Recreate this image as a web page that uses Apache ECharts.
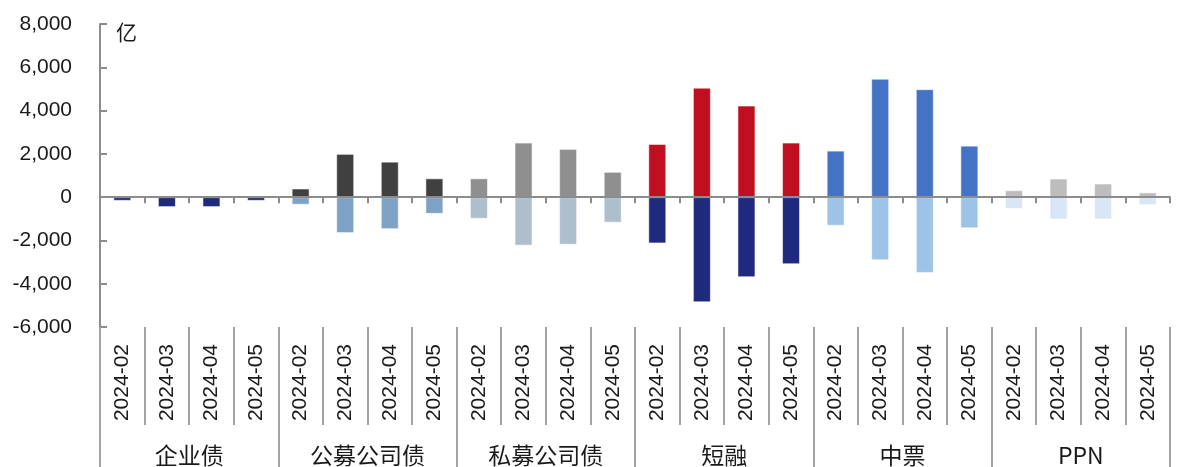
<!DOCTYPE html>
<html>
<head>
<meta charset="utf-8">
<script src="https://cdn.jsdelivr.net/npm/echarts@6/dist/echarts.min.js"></script>
<style>
html,body{margin:0;padding:0;background:#fff;}
#c{width:1181px;height:467px;}
</style>
</head>
<body>
<div id="c"></div>
<script>
// ---- data ----
var groups = ['企业债', '公募公司债', '私募公司债', '短融', '中票', 'PPN'];
var months = ['2024-02', '2024-03', '2024-04', '2024-05'];
var yTicks = [-6000, -4000, -2000, 0, 2000, 4000, 6000, 8000];
var unitLabel = '亿';

// issuance (positive) per group, by month
var issueQY = [0, 0, 0, 0];
var issueGM = [400, 2000, 1640, 870];
var issueSM = [870, 2520, 2230, 1170];
var issueDR = [2460, 5060, 4230, 2520];
var issueZP = [2150, 5470, 4990, 2380];
var issuePPN = [320, 860, 630, 220];

// repayment (negative) per group, by month
var repayQY = [-170, -460, -460, -170];
var repayGM = [-350, -1660, -1480, -770];
var repaySM = [-1000, -2240, -2200, -1180];
var repayDR = [-2140, -4860, -3700, -3100];
var repayZP = [-1320, -2920, -3500, -1440];
var repayPPN = [-540, -1030, -1030, -370];

// ---- styles ----
var posColors = ['#1f2a7a', '#404040', '#8f8f8f', '#c00f20', '#4472c4', '#bdbdbd'];
var negColors = ['#1f2a7a', '#7ea2c6', '#adbecd', '#1f2a7e', '#9dc3e6', '#d8e6f5'];

var issueAll = [issueQY, issueGM, issueSM, issueDR, issueZP, issuePPN];
var repayAll = [repayQY, repayGM, repaySM, repayDR, repayZP, repayPPN];

var cats = [];
var posData = [];
var negData = [];
groups.forEach(function (g, gi) {
  months.forEach(function (m, mi) {
    cats.push(m);
    posData.push({ value: issueAll[gi][mi], itemStyle: { color: posColors[gi] } });
    negData.push({ value: repayAll[gi][mi], itemStyle: { color: negColors[gi] } });
  });
});

var FONT = '"Liberation Sans", "Noto Sans CJK SC", sans-serif';
var CJK = '"Noto Sans CJK SC", sans-serif';
var axisGray = '#8c8c8c';
var sepGray = '#a3a3a3';

var chart = echarts.init(document.getElementById('c'), null, { renderer: 'canvas' });
chart.setOption({
  animation: false,
  backgroundColor: '#fff',
  textStyle: { fontFamily: FONT },
  grid: { left: 100, right: 11, top: 24, bottom: 139, containLabel: false },
  graphic: [{
    type: 'text', left: 116, top: 22,
    style: { text: unitLabel, fontSize: 21, fontFamily: CJK, fill: '#1a1a1a' }
  }],
  xAxis: [
    {
      type: 'category', data: cats, gridIndex: 0, z: 10,
      axisLine: { onZero: true, lineStyle: { color: axisGray, width: 2 } },
      axisTick: { show: true, interval: 0, length: 6, lineStyle: { color: axisGray, width: 2 } },
      axisLabel: { show: false },
      splitLine: { show: false }
    },
    {
      type: 'category', data: cats, position: 'bottom',
      axisLine: { show: false, onZero: false },
      axisTick: { show: true, interval: 0, length: 98, lineStyle: { color: sepGray, width: 2 } },
      axisLabel: { interval: 0, rotate: 90, margin: 17, fontSize: 21, color: '#1a1a1a', fontFamily: FONT },
      splitLine: { show: false }
    },
    {
      type: 'category', data: groups, position: 'bottom',
      axisLine: { show: false, onZero: false },
      axisTick: { show: true, interval: 0, length: 140, lineStyle: { color: sepGray, width: 2 } },
      axisLabel: { interval: 0, margin: 117, fontSize: 23, color: '#1a1a1a', fontFamily: CJK },
      splitLine: { show: false }
    }
  ],
  yAxis: {
    type: 'value', min: yTicks[0], max: yTicks[yTicks.length - 1], interval: 2000,
    axisLine: { show: true, lineStyle: { color: axisGray, width: 2 } },
    axisTick: { show: true, inside: true, length: 7, lineStyle: { color: axisGray, width: 2 } },
    axisLabel: {
      margin: 28, fontSize: 21, color: '#1a1a1a', fontFamily: FONT,
      formatter: function (v) { return echarts.format.addCommas(v); }
    },
    splitLine: { show: false }
  },
  series: [
    {
      name: '发行', type: 'bar', xAxisIndex: 0, stack: 'a', barWidth: 18, data: posData,
      itemStyle: { borderColor: 'rgba(255,255,255,0.55)', borderWidth: 1 }
    },
    {
      name: '偿还', type: 'bar', xAxisIndex: 0, stack: 'a', barWidth: 18, data: negData,
      itemStyle: { borderColor: 'rgba(255,255,255,0.55)', borderWidth: 1 }
    }
  ]
});
</script>
</body>
</html>
